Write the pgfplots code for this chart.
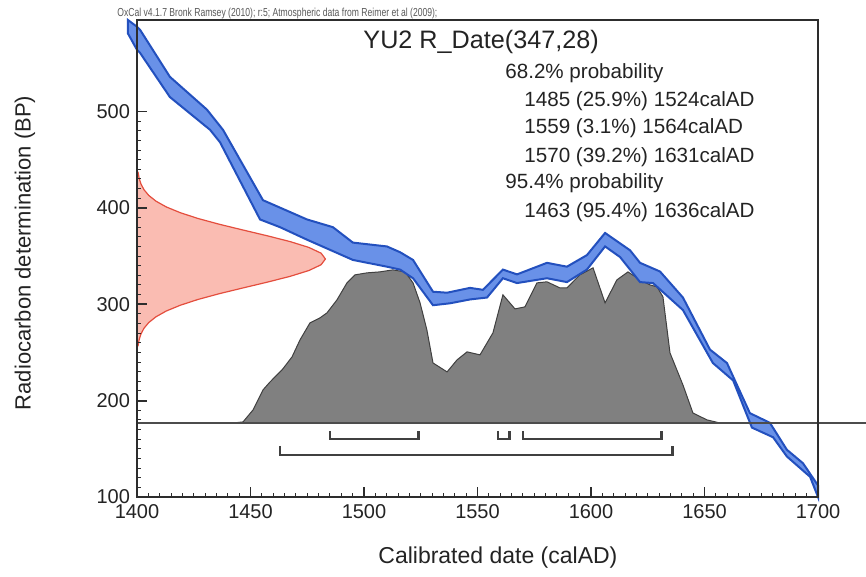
\documentclass[border=0pt]{standalone}
\usepackage{fontspec}
\setmainfont{Liberation Sans}
\usepackage{graphicx}
\usepackage{pgfplots}
\pgfplotsset{compat=1.18}
\definecolor{bandfill}{RGB}{105,145,232}
\definecolor{bandedge}{RGB}{35,80,190}
\definecolor{redfill}{RGB}{250,188,178}
\definecolor{rededge}{RGB}{228,78,62}
\definecolor{greyfill}{RGB}{128,128,128}
\definecolor{frame}{RGB}{45,45,45}
\definecolor{txt}{RGB}{35,35,35}
\begin{document}
\begin{tikzpicture}
\path[use as bounding box] (-68.5pt,-40pt) rectangle (364.5pt,248.5pt);
\begin{axis}[
  at={(0pt,0pt)}, anchor=south west, scale only axis,
  width=340.5pt, height=238.5pt,
  xmin=1400, xmax=1700, ymin=100, ymax=595,
  clip=false, axis on top,
  axis line style={frame, line width=1.1pt},
  xtick={1400,1450,...,1700}, ytick={100,200,...,500},
  minor x tick num=9, minor y tick num=9,
  tick align=inside, xtick pos=bottom, ytick pos=left,
  major tick length=5pt, minor tick length=2.2pt,
  major tick style={frame, line width=0.9pt},
  minor tick style={frame, line width=0.5pt},
  tick label style={font=\fontsize{10}{12}\selectfont, text=txt},
  /pgf/number format/assume math mode=true,
  /pgf/number format/1000 sep={},
  xlabel={Calibrated date (calAD)},
  ylabel={Radiocarbon determination (BP)},
  xlabel style={at={(axis description cs:0.530,-0.126)}, anchor=center, font=\fontsize{11.5}{14}\selectfont, text=txt},
  ylabel style={at={(axis description cs:-0.1645,0.5115)}, anchor=center, font=\fontsize{11}{13}\selectfont, text=txt},
]
% radiocarbon date (normal distribution, 347 +/- 28)
\addplot[fill=redfill, draw=rededge, line width=0.6pt] coordinates {
(1400,257) (1400.47,257) (1400.92,263) (1401.71,269) (1403.05,275) (1405.16,281) (1408.36,287)
(1412.9,293) (1419.1,299) (1426.9,305) (1436.3,311) (1446.8,317) (1457.5,323) (1467.5,329)
(1475.7,335) (1481.1,341) (1483,347) (1481.1,353) (1475.7,359) (1467.5,365) (1457.5,371)
(1446.8,377) (1436.3,383) (1426.9,389) (1419.1,395) (1412.9,401) (1408.36,407) (1405.16,413)
(1403.05,419) (1401.71,425) (1400.92,431) (1400.47,437) (1400,437)} -- cycle;
% calibrated probability distribution
\addplot[fill=greyfill, draw=black!75, line width=0.5pt] coordinates {
(1440,176.8) (1442.3,176.8) (1446.7,177.9) (1451.1,190.3) (1455.5,211.1) (1458.6,219.4)
(1463.9,231.9) (1468.3,245.4) (1471.8,263.0) (1476.2,280.7) (1480.6,285.9) (1483.7,291.1)
(1488.1,304.6) (1492.5,322.2) (1496.0,330.5) (1501.3,332.6) (1507.0,333.6) (1512.7,335.7)
(1518.1,333.6) (1521.6,322.2) (1524.7,301.4) (1527.7,273.4) (1530.4,239.1) (1536.6,229.8)
(1541.0,242.3) (1545.4,250.6) (1551.1,247.5) (1556.8,270.3) (1561.2,309.8) (1566.5,295.2)
(1570.9,297.3) (1576.2,322.2) (1580.6,323.3) (1586.3,317.0) (1589.4,317.0) (1595.1,330.5)
(1600.9,337.8) (1606.2,301.4) (1611.4,325.3) (1616.3,333.6) (1621.6,325.3) (1626.0,320.1)
(1629.1,318.1) (1631.7,307.7) (1634.8,249.5) (1640.5,216.3) (1644.9,187.2) (1651.1,180.0)
(1656.8,176.8)} -- cycle;
% calibration curve band
\addplot[fill=bandfill, draw=bandedge, line width=1pt] coordinates {
(1396,595) (1400,588) (1401.3,585) (1414.5,536) (1430.8,502) (1437.9,481) (1455.5,408)
(1474.9,388) (1486.3,380) (1495.1,364) (1510.1,360) (1515.9,354) (1521.6,346) (1530.4,313)
(1536.6,312) (1546.7,317) (1552.4,315) (1561.2,336) (1567.4,331) (1580.6,343) (1589.4,339)
(1598.2,351) (1606.2,374) (1617.2,356) (1621.6,343) (1630.4,334) (1640.5,307) (1652.4,253)
(1659.9,239) (1670.0,187) (1678.8,177) (1686.3,149) (1693.4,135) (1700,112)
(1700,100) (1696.5,121) (1686.3,142) (1680.2,162) (1670.9,172) (1662.6,221) (1653.7,239)
(1640.5,294) (1627.3,322) (1621.6,323) (1612.8,349) (1606.2,360) (1598.2,336) (1589.4,323)
(1580.6,327) (1567.4,322) (1561.2,327) (1554.2,307) (1546.7,305) (1537.9,301) (1530.4,299)
(1521.6,327) (1515.9,336) (1510.1,339) (1495.1,346) (1474.9,367) (1463.0,380) (1454.2,388)
(1436.6,468) (1432.2,481) (1414.5,515) (1401.3,561) (1400,564) (1396,581)} -- cycle;
% baseline
\addplot[draw=black!70, line width=0.7pt] coordinates {(1400,176.8) (1721,176.8)};
% 68.2% ranges
\addplot[draw=black!75, line width=1.4pt] coordinates {(1485,168.5) (1485,160.2) (1524,160.2) (1524,168.5)};
\addplot[draw=black!75, line width=1.4pt] coordinates {(1559,168.5) (1559,160.2) (1564,160.2) (1564,168.5)};
\addplot[draw=black!75, line width=1.4pt] coordinates {(1570,168.5) (1570,160.2) (1631,160.2) (1631,168.5)};
% 95.4% range
\addplot[draw=black!75, line width=1.4pt] coordinates {(1463,153) (1463,143.6) (1636,143.6) (1636,153)};
% texts
\node[anchor=base west, inner sep=0pt, text=black!65] at (axis cs:1391.2,598.4)
  {\resizebox{160pt}{4.2pt}{\fontsize{10}{12}\selectfont OxCal v4.1.7 Bronk Ramsey (2010); r:5; Atmospheric data from Reimer et al (2009);}};
\node[anchor=base west, inner sep=0pt, text=txt, font=\fontsize{12.6}{15}\selectfont] at (axis cs:1499.6,565.2) {YU2 R\_Date(347,28)};
\begin{scope}[every node/.style={anchor=base west, inner sep=0pt, text=txt, font=\fontsize{10.3}{12}\selectfont}]
\node at (axis cs:1562.1,534.0) {68.2\% probability};
\node at (axis cs:1570.5,505.6) {1485 (25.9\%) 1524calAD};
\node at (axis cs:1570.5,476.8) {1559 (3.1\%) 1564calAD};
\node at (axis cs:1570.5,447.4) {1570 (39.2\%) 1631calAD};
\node at (axis cs:1562.1,419.7) {95.4\% probability};
\node at (axis cs:1570.5,390.3) {1463 (95.4\%) 1636calAD};
\end{scope}
\end{axis}
\end{tikzpicture}
\end{document}
